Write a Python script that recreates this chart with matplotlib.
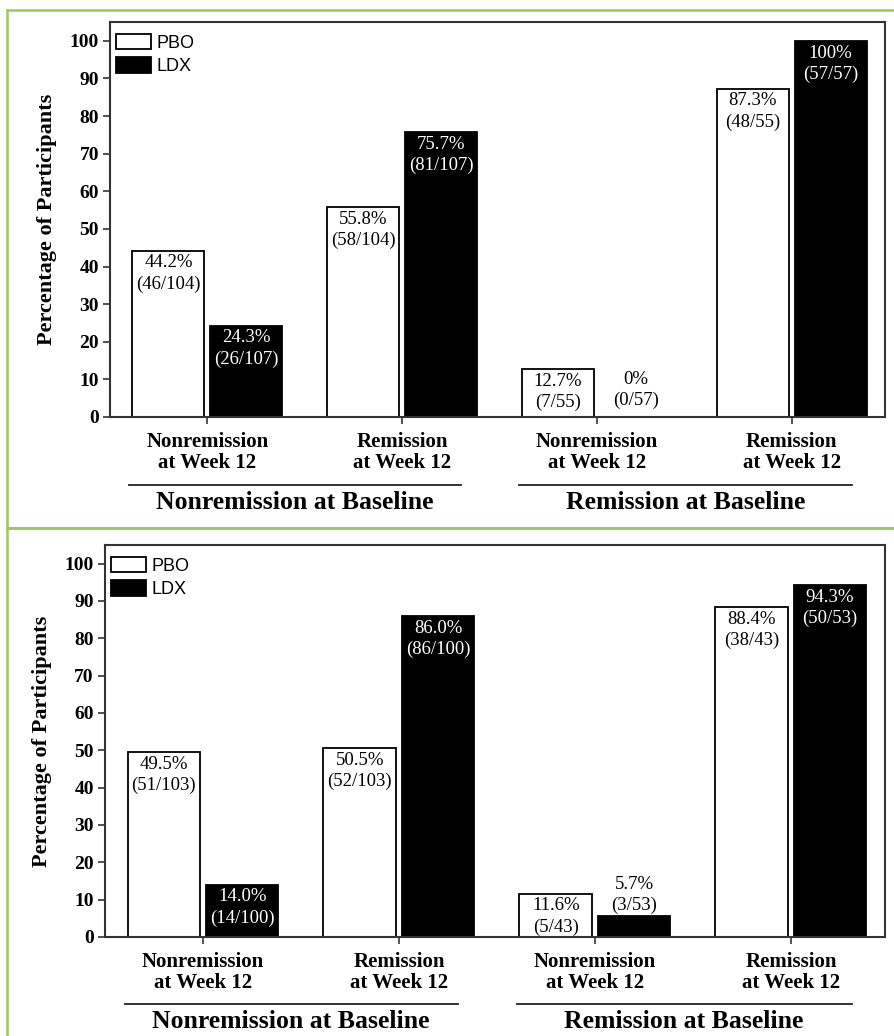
import numpy as np
import matplotlib.pyplot as plt
from matplotlib.lines import Line2D

# Data
groups = ['Nonremission\nat Week 12', 'Remission\nat Week 12',
          'Nonremission\nat Week 12', 'Remission\nat Week 12']
baseline_titles = ['Nonremission at Baseline', 'Remission at Baseline']

top_pbo = [44.2, 55.8, 12.7, 87.3]
top_pbo_pct = ['44.2%', '55.8%', '12.7%', '87.3%']
top_pbo_n = ['(46/104)', '(58/104)', '(7/55)', '(48/55)']
top_ldx = [24.3, 75.7, 0, 100]
top_ldx_pct = ['24.3%', '75.7%', '0%', '100%']
top_ldx_n = ['(26/107)', '(81/107)', '(0/57)', '(57/57)']

bot_pbo = [49.5, 50.5, 11.6, 88.4]
bot_pbo_pct = ['49.5%', '50.5%', '11.6%', '88.4%']
bot_pbo_n = ['(51/103)', '(52/103)', '(5/43)', '(38/43)']
bot_ldx = [14.0, 86.0, 5.7, 94.3]
bot_ldx_pct = ['14.0%', '86.0%', '5.7%', '94.3%']
bot_ldx_n = ['(14/100)', '(86/100)', '(3/53)', '(50/53)']

serif = 'Liberation Serif'
sans = 'Liberation Sans'
green = '#9dc95c'


def draw_panel(ax, pbo, pbo_pct, pbo_n, ldx, ldx_pct, ldx_n):
    x = np.arange(len(groups))
    w = 0.37
    off = 0.2
    ax.bar(x - off, pbo, w, color='white', edgecolor='black', linewidth=1.3, label='PBO')
    ax.bar(x + off, ldx, w, color='black', edgecolor='black', linewidth=1.3, label='LDX')

    # value labels
    for xi, v, p, n in zip(x - off, pbo, pbo_pct, pbo_n):
        ax.text(xi, v - 1.0, p + '\n' + n, ha='center', va='top', fontsize=13.5,
                family=serif, color='black', linespacing=1.3)
    for xi, v, p, n in zip(x + off, ldx, ldx_pct, ldx_n):
        if v < 10:
            pad = 2.0 if v == 0 else 0.5
            ax.text(xi, v + pad, p + '\n' + n, ha='center', va='bottom', fontsize=13.5,
                    family=serif, color='black', linespacing=1.3)
        else:
            ax.text(xi, v - 1.0, p + '\n' + n, ha='center', va='top', fontsize=13.5,
                    family=serif, color='white', linespacing=1.3)

    ax.set_xlim(-0.5, 3.48)
    ax.set_ylim(0, 105)
    ax.set_yticks(range(0, 101, 10))
    ax.set_xticks(x)
    ax.set_xticklabels(groups, fontsize=15, fontweight='bold', family=serif, linespacing=1.05)
    for lab in ax.get_yticklabels():
        lab.set_fontsize(14)
        lab.set_fontweight('bold')
        lab.set_family(serif)
    ax.tick_params(axis='both', direction='out', length=5, width=1.2, color='#333333', pad=3)
    ax.tick_params(axis='x', pad=6)
    for s in ax.spines.values():
        s.set_linewidth(1.5)
        s.set_color('#333333')
    ax.set_ylabel('Percentage of Participants', fontsize=16, fontweight='bold', family=serif,
                  labelpad=9)

    # baseline group underlines and titles
    tr = ax.get_xaxis_transform()
    spans = [(-0.4, 1.3), (1.6, 3.31)]
    for (a, b), title in zip(spans, baseline_titles):
        ax.plot([a, b], [-0.172, -0.172], color='#222222', linewidth=1.3,
                transform=tr, clip_on=False)
        ax.text((a + b) / 2, -0.187, title, transform=tr, ha='center', va='top',
                fontsize=18.5, fontweight='bold', family=serif)

    leg = ax.legend(loc='upper left', bbox_to_anchor=(0.008, 0.97), frameon=False,
                    prop={'family': sans, 'size': 13}, handlelength=1.9, handleheight=0.95,
                    handletextpad=0.35, labelspacing=0.3, borderaxespad=0, borderpad=0)
    for h in leg.legend_handles:
        h.set_linewidth(1.3)


fig = plt.figure(figsize=(8.95, 10.36), dpi=100)
ax1 = fig.add_axes([0.1229, 0.5975, 0.866, 0.3813])
ax2 = fig.add_axes([0.1173, 0.0956, 0.8715, 0.3784])

draw_panel(ax1, top_pbo, top_pbo_pct, top_pbo_n, top_ldx, top_ldx_pct, top_ldx_n)
draw_panel(ax2, bot_pbo, bot_pbo_pct, bot_pbo_n, bot_ldx, bot_ldx_pct, bot_ldx_n)

# green frame lines
fig.add_artist(Line2D([0.008, 1.0], [1 - 10 / 1036, 1 - 10 / 1036], color=green, linewidth=1.8))
fig.add_artist(Line2D([0.008, 1.0], [1 - 528 / 1036, 1 - 528 / 1036], color=green, linewidth=2.2))
fig.add_artist(Line2D([0.008, 0.008], [0, 1 - 10 / 1036], color=green, linewidth=1.8))

fig.savefig('out.png', dpi=100, facecolor='white')
